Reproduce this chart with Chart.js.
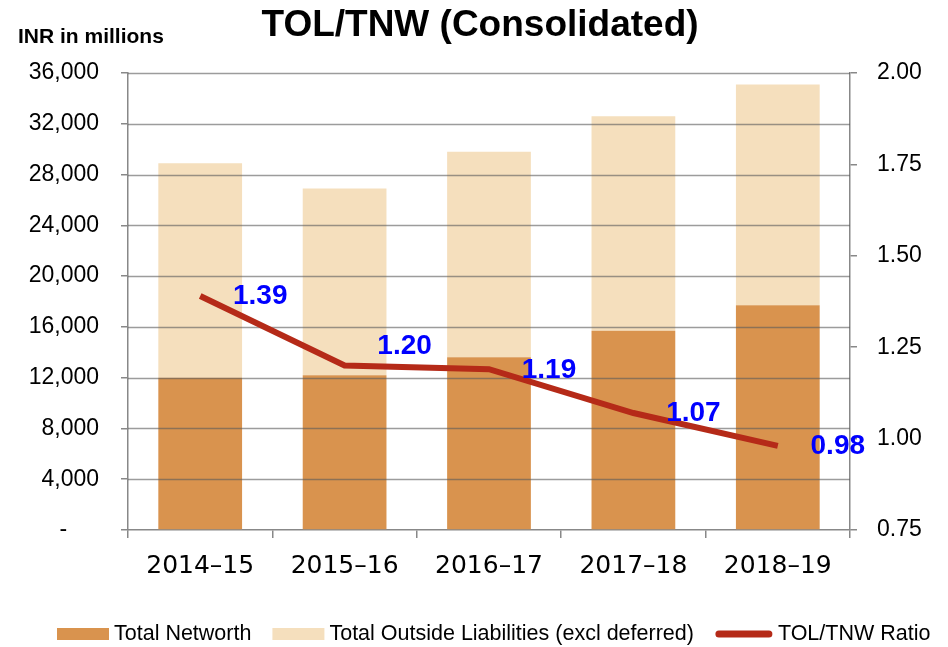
<!DOCTYPE html>
<html>
<head>
<meta charset="utf-8">
<script src="https://cdn.jsdelivr.net/npm/chart.js@4/dist/chart.umd.min.js"></script>
<style>
  html, body { margin: 0; padding: 0; background: #fff; }
  #wrap { width: 948px; height: 647px; }
</style>
</head>
<body>
<div id="wrap"><canvas id="chart" width="948" height="647"></canvas></div>
<script>
// data
const years = ["2014–15", "2015–16", "2016–17", "2017–18", "2018–19"];
const netWorth = [12000, 12200, 13600, 15700, 17700];
const outsideLiab = [16900, 14700, 16200, 16900, 17400];
const tolTnwRatio = [1.39, 1.20, 1.19, 1.07, 0.98];
const leftTicks = [0, 4000, 8000, 12000, 16000, 20000, 24000, 28000, 32000, 36000];

const AXIS = "#888888";
const FONT = "'Liberation Sans', Arial, sans-serif";

// title + unit label
const headerPlugin = {
  id: "header",
  afterDraw(chart) {
    const ctx = chart.ctx;
    ctx.save();
    ctx.fillStyle = "#000";
    ctx.textBaseline = "middle";
    ctx.textAlign = "center";
    ctx.font = "bold 37px " + FONT;
    ctx.fillText("TOL/TNW (Consolidated)", 480, 26);
    ctx.textAlign = "left";
    ctx.font = "bold 21px " + FONT;
    ctx.fillText("INR in millions", 18, 37);
    ctx.restore();
  }
};

// legend at the bottom, bars as boxes and the ratio as a thick line
const bottomLegend = {
  id: "bottomLegend",
  afterDraw(chart) {
    const ctx = chart.ctx;
    const y = 634;
    let x = 57;
    ctx.save();
    ctx.font = "21.5px " + FONT;
    ctx.textBaseline = "middle";
    ctx.textAlign = "left";
    chart.data.datasets.forEach(ds => {
      if (ds.type === "line") {
        ctx.strokeStyle = ds.borderColor;
        ctx.lineWidth = 7;
        ctx.lineCap = "round";
        ctx.beginPath();
        ctx.moveTo(x + 4, y);
        ctx.lineTo(x + 54, y);
        ctx.stroke();
        x += 58;
      } else {
        ctx.fillStyle = ds.backgroundColor;
        ctx.fillRect(x, y - 6, 52, 12);
        x += 52;
      }
      x += 5;
      ctx.fillStyle = "#000";
      ctx.fillText(ds.label, x, y);
      x += ctx.measureText(ds.label).width + 21;
    });
    ctx.restore();
  }
};

// gridlines sit above the bars but below the ratio line
const gridOverBars = {
  id: "gridOverBars",
  beforeDatasetDraw(chart, args) {
    if (args.index !== 2) return;
    const ctx = chart.ctx, y = chart.scales.y, area = chart.chartArea;
    ctx.save();
    ctx.strokeStyle = "rgba(90,90,90,0.6)";
    ctx.lineWidth = 1.5;
    y.ticks.forEach((t, i) => {
      if (t.value === 0) return;
      const py = Math.round(y.getPixelForTick(i)) + 0.5;
      ctx.beginPath();
      ctx.moveTo(area.left, py);
      ctx.lineTo(area.right, py);
      ctx.stroke();
    });
    ctx.restore();
  }
};

// blue value labels next to the ratio points
const ratioLabels = {
  id: "ratioLabels",
  afterDatasetsDraw(chart) {
    const meta = chart.getDatasetMeta(2);
    const ctx = chart.ctx;
    const dy = [0, -19, 1, 0, 0];
    ctx.save();
    ctx.fillStyle = "#0000ff";
    ctx.font = "bold 28px " + FONT;
    ctx.textAlign = "center";
    ctx.textBaseline = "middle";
    meta.data.forEach((pt, i) => {
      ctx.fillText(tolTnwRatio[i].toFixed(2), pt.x + 60, pt.y + dy[i]);
    });
    ctx.restore();
  }
};

new Chart(document.getElementById("chart"), {
  type: "bar",
  data: {
    labels: years,
    datasets: [
      {
        label: "Total Networth",
        data: netWorth,
        backgroundColor: "#d9934e",
        yAxisID: "y",
        stack: "s",
        order: 1,
        barPercentage: 0.58,
        categoryPercentage: 1
      },
      {
        label: "Total Outside Liabilities (excl deferred)",
        data: outsideLiab,
        backgroundColor: "#f5dfbd",
        yAxisID: "y",
        stack: "s",
        order: 1,
        barPercentage: 0.58,
        categoryPercentage: 1
      },
      {
        type: "line",
        label: "TOL/TNW Ratio",
        data: tolTnwRatio,
        borderColor: "#b52a18",
        backgroundColor: "#b52a18",
        borderWidth: 6,
        pointRadius: 0,
        tension: 0,
        yAxisID: "y1",
        order: 0
      }
    ]
  },
  options: {
    responsive: false,
    animation: false,
    layout: { padding: { top: 73, left: 0, right: 0, bottom: 54 } },
    plugins: {
      title: { display: false },
      tooltip: { enabled: false },
      legend: { display: false }
    },
    scales: {
      x: {
        stacked: true,
        grid: { offset: true, drawOnChartArea: false, drawTicks: true, tickLength: 8, color: AXIS, lineWidth: 1.5 },
        border: { display: true, color: AXIS, width: 1.5 },
        ticks: {
          color: "#000",
          padding: 13,
          maxRotation: 0,
          font: { family: "'DejaVu Sans', sans-serif", size: 25 }
        },
        afterFit(s) { s.height = 63; }
      },
      y: {
        stacked: true,
        position: "left",
        min: 0,
        max: 36000,
        afterBuildTicks(s) { s.ticks = leftTicks.map(v => ({ value: v })); },
        grid: { drawOnChartArea: false, drawTicks: true, tickLength: 7, color: AXIS, lineWidth: 1.5 },
        border: { display: true, color: AXIS, width: 1.5 },
        ticks: {
          color: "#000",
          padding: 22,
          font: { family: FONT, size: 23 },
          callback: v => v === 0 ? "-     " : v.toLocaleString("en-US")
        },
        afterFit(s) { s.width = 128; }
      },
      y1: {
        position: "right",
        min: 0.75,
        max: 2.0,
        grid: { drawOnChartArea: false, drawTicks: true, tickLength: 7, color: AXIS, lineWidth: 1.5 },
        border: { display: true, color: AXIS, width: 1.5 },
        ticks: {
          color: "#000",
          stepSize: 0.25,
          padding: 20,
          font: { family: FONT, size: 23 },
          callback: v => v.toFixed(2)
        },
        afterFit(s) { s.width = 98; }
      }
    }
  },
  plugins: [headerPlugin, gridOverBars, ratioLabels, bottomLegend]
});
</script>
</body>
</html>
